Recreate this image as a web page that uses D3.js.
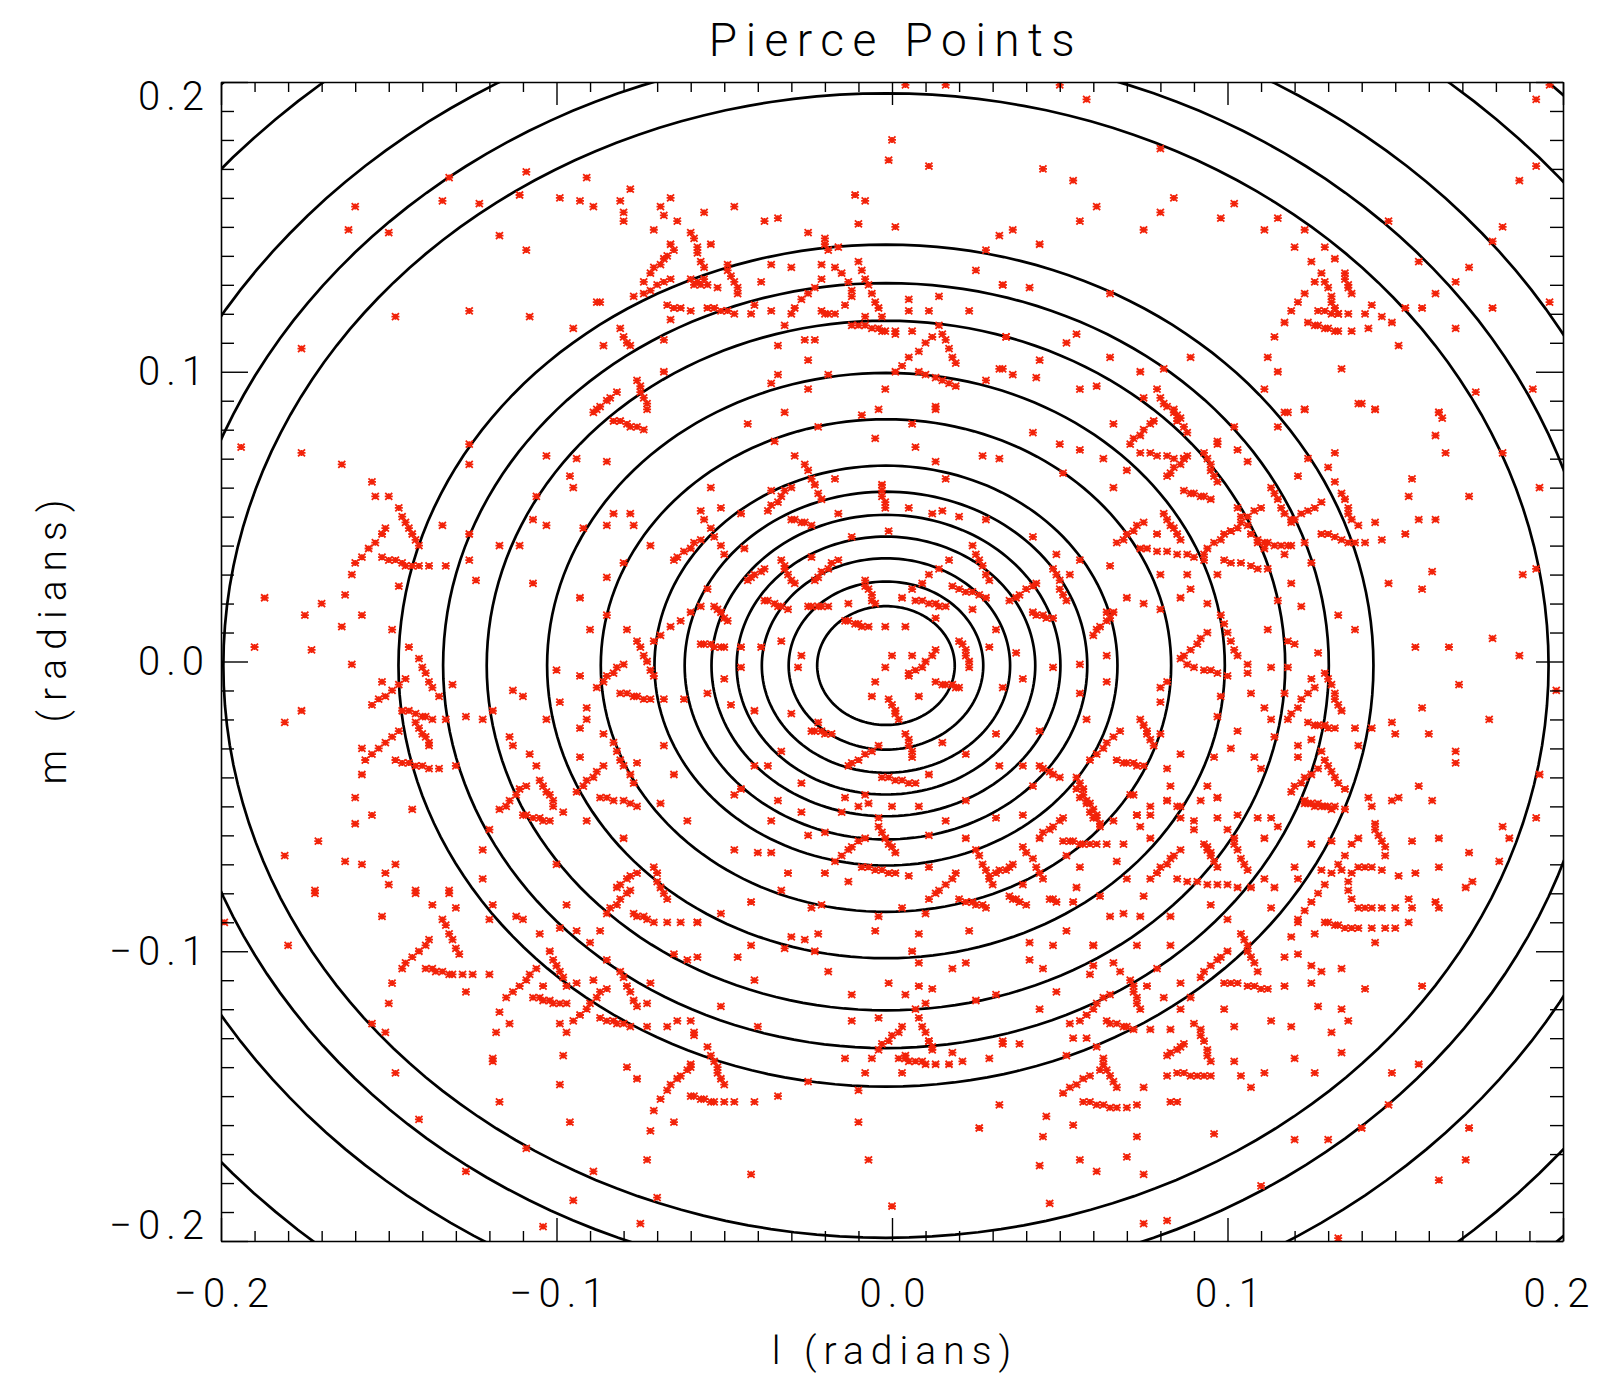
<!DOCTYPE html>
<html>
<head>
<meta charset="utf-8">
<script src="https://cdn.jsdelivr.net/npm/d3@7"></script>
<style>
body { margin: 0; background: #fff; }
text { font-family: Roboto, "DejaVu Sans", sans-serif; font-weight: 300; fill: #000; }
.tick text { font-size: 40px; letter-spacing: 6px; }
</style>
</head>
<body>
<script>
// all positions below are in milliradians (l, m)

var tickValues = [-200, -100, 0, 100, 200];
var tickLabels = ["\u22120.2", "\u22120.1", "0.0", "0.1", "0.2"];

// contour rings: common centre and radii
var contourCentre = [-1.8, -1.4];
var contourRadii = [20.5, 29, 37, 44.5, 52, 60, 69, 85, 101, 119, 132, 145.3, 197.5, 213, 232, 262, 282];

// pierce point tracks (each one a short run of points)
var tracksNorth = [
  [[-72,134],[-71,136],[-69,137],[-68,139],[-67,140],[-65,142]],
  [[-77,126],[-74,127],[-72,128],[-70,130],[-68,131],[-66,132]],
  [[-60,148],[-59,146],[-58,143],[-58,141],[-57,138],[-56,136]],
  [[-49,137],[-49,135],[-48,133],[-47,131],[-46,129],[-46,127]],
  [[-67,123],[-65,122],[-63,122],[-60,121]],
  [[-55,122],[-53,122],[-51,121],[-49,121],[-47,120]],
  [[-60,132],[-58,131],[-57,130],[-55,130],[-59,130],[-56,132]],
  [[-30,120],[-29,122],[-27,125],[-25,127],[-23,129],[-21,132]],
  [[-17,136],[-15,134],[-13,131],[-12,128],[-12,126],[-14,123],[-17,120]],
  [[-20,146],[-20,144],[-19,142]],
  [[-10,138],[-9,135],[-8,132],[-7,130],[-6,127],[-5,124],[-4,122],[-3,119]],
  [[-21,121],[-20,120],[-19,120]],
  [[-12,116],[-10,116],[-8,116],[-6,115],[-4,115],[-2,114]],
  [[1,100],[3,102],[5,105],[8,107],[10,110],[12,112]],
  [[14,116],[15,113],[16,111],[17,108],[18,105],[19,103]],
  [[8,100],[10,99],[13,98],[15,97],[17,96],[19,95]],
  [[-76,97],[-75,95],[-75,93],[-74,91],[-73,89],[-73,87]],
  [[-89,86],[-88,87],[-87,88],[-85,90],[-84,91],[-82,93]],
  [[-80,112],[-79,110],[-78,109]],
  [[117,117],[119,121],[121,124],[123,127],[126,131],[128,134]],
  [[129,131],[130,129],[131,126],[131,124],[132,122],[133,120]],
  [[135,134],[135,132],[136,130],[136,129],[137,127]],
  [[124,117],[126,116],[127,116],[129,115],[130,115],[132,114]],
  [[127,121],[129,121],[131,120],[133,120],[136,120]],
  [[80,91],[81,89],[82,88],[84,86],[85,83]]
];

var tracksEast = [
  [[71,75],[72,77],[74,78],[75,80],[77,82],[78,83]],
  [[84,87],[85,85],[86,84],[87,81],[88,79]],
  [[82,64],[83,65],[84,67],[86,68],[87,70],[88,71]],
  [[74,72],[77,72],[79,71],[82,71],[84,70],[87,70]],
  [[93,72],[94,70],[95,68],[95,66],[96,64],[97,62]],
  [[87,59],[89,58],[90,58],[92,57],[93,57],[95,56]],
  [[67,41],[69,42],[70,44],[72,45],[73,47],[75,48]],
  [[81,51],[82,49],[83,47],[84,46],[85,44],[86,42]],
  [[74,39],[76,39],[79,38],[82,38],[85,37],[88,37],[90,36],[93,35]],
  [[93,37],[94,39],[96,41],[98,42],[99,44],[101,45]],
  [[103,53],[104,50],[106,47],[107,44],[109,41],[111,39]],
  [[101,45],[103,46],[104,48],[106,50],[108,52],[110,53]],
  [[109,42],[111,41],[112,41],[114,40],[116,40],[118,40]],
  [[99,35],[101,34],[104,34],[107,33],[109,32],[112,32]],
  [[119,48],[120,49],[122,51],[124,52],[126,53],[128,55]],
  [[113,60],[114,58],[115,56],[116,53],[117,51],[119,49]],
  [[134,58],[135,56],[136,53],[136,51],[137,49],[139,47]],
  [[128,44],[130,44],[132,43],[134,42],[136,41],[138,41]],
  [[86,1],[87,2],[89,4],[91,6],[92,8],[94,10]],
  [[98,16],[99,13],[100,10],[101,7],[102,4],[103,2]],
  [[88,-1],[90,-2],[93,-3],[95,-3],[97,-4],[100,-5]],
  [[118,-20],[119,-18],[121,-16],[122,-13],[124,-11],[126,-9]],
  [[130,-6],[131,-8],[132,-11],[132,-13],[133,-15],[134,-17]],
  [[124,-21],[126,-22],[127,-22],[129,-22],[130,-23],[132,-23]],
  [[119,-45],[120,-43],[122,-42],[123,-40],[125,-39],[127,-37]],
  [[129,-34],[130,-36],[131,-38],[132,-40],[133,-42],[135,-44]],
  [[123,-49],[124,-49],[126,-50],[128,-50],[129,-50],[131,-51]],
  [[59,-34],[61,-32],[63,-30],[64,-28],[66,-26],[68,-24]],
  [[74,-20],[75,-22],[76,-24],[76,-25],[77,-27],[78,-29]],
  [[67,-34],[69,-35],[70,-35],[72,-35],[73,-36],[75,-36]],
  [[60,9],[61,11],[62,12],[64,14],[65,15],[66,17]]
];

var tracksSouthEast = [
  [[79,-73],[80,-71],[82,-70],[83,-68],[84,-67],[86,-65]],
  [[93,-63],[94,-64],[94,-65],[95,-66],[95,-67],[96,-69],[97,-71]],
  [[85,-75],[88,-76],[91,-76],[94,-77],[97,-77],[100,-77],[103,-78],[107,-78]],
  [[102,-61],[102,-63],[103,-65],[104,-68],[105,-70],[106,-72]],
  [[121,-89],[123,-86],[125,-83],[127,-80],[129,-77],[131,-73],[133,-70],[135,-67],[137,-63],[139,-61]],
  [[144,-56],[144,-58],[145,-60],[146,-62],[147,-64],[147,-67]],
  [[146,-72],[143,-71],[141,-71],[139,-71],[137,-73],[136,-76],[136,-79],[137,-82],[139,-85],[141,-85],[143,-85],[146,-85]],
  [[129,-90],[130,-90],[132,-91],[133,-91],[135,-92],[137,-92]],
  [[105,-96],[106,-98],[106,-100],[107,-102],[108,-104],[109,-107]],
  [[92,-109],[93,-107],[95,-105],[97,-103],[98,-102],[100,-100]],
  [[99,-111],[101,-111],[103,-111],[106,-112],[108,-112],[110,-113]],
  [[71,-110],[72,-112],[72,-114],[73,-116],[73,-118],[74,-120]],
  [[64,-124],[65,-125],[67,-125],[69,-126],[70,-126],[72,-127]],
  [[92,-127],[92,-129],[93,-131],[94,-134],[94,-136],[95,-138]],
  [[82,-136],[83,-135],[85,-134],[86,-133],[87,-132]],
  [[59,-49],[60,-51],[61,-53],[61,-54],[62,-56]],
  [[123,-48],[125,-49],[127,-49],[130,-50],[132,-50],[135,-51]],
  [[51,-149],[53,-147],[55,-146],[57,-144],[59,-143],[62,-141]],
  [[63,-137],[63,-139],[64,-141],[65,-143],[66,-145],[67,-147]],
  [[57,-152],[59,-152],[61,-153],[63,-153],[65,-154],[67,-154],[70,-154],[73,-153]],
  [[85,-142],[87,-142],[89,-143],[91,-143],[93,-143],[95,-143]]
];

var tracksSouth = [
  [[-67,-148],[-66,-146],[-64,-144],[-63,-143],[-61,-141],[-60,-139]],
  [[-54,-136],[-53,-138],[-52,-140],[-52,-142],[-51,-144],[-50,-146]],
  [[-60,-150],[-59,-150],[-57,-151],[-56,-151],[-54,-152],[-53,-152]],
  [[2,-137],[4,-137],[5,-138],[7,-138],[9,-138],[10,-139]],
  [[11,-131],[12,-133]],
  [[-17,-69],[-15,-67],[-13,-65],[-12,-64],[-10,-62],[-8,-61]],
  [[-4,-57],[-3,-59],[-2,-61],[-1,-63],[0,-64],[1,-66]],
  [[-9,-71],[-7,-71],[-5,-72],[-3,-72],[-1,-73],[1,-73]],
  [[11,-82],[13,-80],[14,-79],[16,-77],[18,-75],[19,-73]],
  [[25,-65],[26,-67],[27,-70],[28,-72],[29,-75],[30,-77]],
  [[20,-82],[22,-83],[24,-83],[25,-84],[27,-84],[28,-85]],
  [[29,-74],[31,-73],[32,-72],[34,-72],[35,-71],[36,-70]],
  [[39,-64],[40,-66],[42,-68],[43,-71],[44,-73],[45,-75]],
  [[35,-81],[36,-82],[37,-82],[38,-83],[40,-84]],
  [[44,-61],[45,-59],[47,-58],[48,-57],[50,-55],[51,-54]],
  [[55,-44],[56,-47],[58,-49],[59,-52],[60,-54],[62,-57]],
  [[51,-62],[53,-62],[54,-62],[56,-63],[57,-63],[59,-63]],
  [[-4,-134],[-3,-132],[-1,-131],[0,-129],[2,-128],[3,-126]],
  [[7,-120],[8,-123],[9,-126],[10,-128],[11,-131],[12,-134]],
  [[56,-124],[58,-122],[60,-120],[61,-118],[63,-116],[65,-115]],
  [[47,-82],[48,-82],[49,-83]]
];

var tracksWest = [
  [[-146,-106],[-145,-104],[-143,-102],[-141,-100],[-139,-98],[-138,-96]],
  [[-134,-89],[-133,-91],[-132,-94],[-131,-96],[-130,-99],[-129,-101]],
  [[-139,-106],[-137,-106],[-136,-107],[-134,-107],[-132,-108],[-131,-108]],
  [[-115,-116],[-113,-114],[-111,-112],[-109,-110],[-108,-108],[-106,-106]],
  [[-102,-100],[-101,-103],[-100,-105],[-99,-107],[-98,-109],[-97,-112]],
  [[-107,-116],[-105,-116],[-104,-117],[-102,-117],[-101,-118],[-99,-118]],
  [[-93,-122],[-91,-120],[-90,-118],[-88,-116],[-87,-114],[-85,-113]],
  [[-81,-107],[-80,-109],[-79,-112],[-78,-114],[-77,-117],[-76,-119]],
  [[-87,-123],[-85,-124],[-83,-124],[-82,-125],[-80,-125],[-78,-126]],
  [[-85,-87],[-84,-85],[-82,-84],[-81,-82],[-79,-80],[-78,-79]],
  [[-77,-87],[-76,-88],[-74,-88],[-73,-89],[-71,-90]],
  [[-160,34],[-158,36],[-156,39],[-154,41],[-152,44],[-151,46]],
  [[-146,50],[-145,48],[-144,46],[-143,44],[-142,42],[-141,40]],
  [[-152,36],[-150,35],[-148,35],[-146,34],[-145,33],[-143,33]],
  [[-141,1],[-140,-2],[-139,-4],[-138,-7],[-137,-9],[-135,-12]],
  [[-155,-15],[-153,-13],[-151,-12],[-149,-10],[-147,-8],[-145,-6]],
  [[-146,-17],[-144,-17],[-142,-18],[-140,-19],[-139,-19],[-137,-20]],
  [[-142,-21],[-141,-23],[-140,-25],[-139,-26],[-138,-28],[-138,-29]],
  [[-157,-34],[-155,-32],[-153,-30],[-151,-28],[-149,-26],[-147,-24]],
  [[-148,-34],[-146,-35],[-144,-35],[-142,-36],[-140,-36],[-138,-37]],
  [[-117,-51],[-115,-50],[-114,-48],[-112,-46],[-111,-44],[-109,-43]],
  [[-105,-41],[-104,-43],[-103,-45],[-102,-46],[-101,-48],[-101,-50]],
  [[-110,-53],[-109,-53],[-107,-54],[-105,-54],[-104,-55],[-102,-55]],
  [[-83,-28],[-82,-31],[-81,-34],[-80,-36],[-78,-39],[-77,-42]],
  [[-94,-45],[-92,-43],[-91,-41],[-89,-40],[-88,-38],[-86,-36]],
  [[-87,-47],[-85,-47],[-83,-48],[-80,-48],[-78,-49],[-76,-50]],
  [[-88,-9],[-86,-7],[-85,-5],[-83,-4],[-82,-2],[-80,-1]],
  [[-76,7],[-75,5],[-74,2],[-73,0],[-72,-3],[-71,-5]],
  [[-81,-11],[-79,-11],[-77,-12],[-76,-12],[-74,-13],[-72,-13]],
  [[-65,35],[-64,36],[-62,38],[-60,39],[-59,41],[-57,42]],
  [[-71,7],[-69,9],[-66,12],[-63,14],[-60,17],[-57,19]],
  [[-83,83],[-81,83],[-79,82],[-78,81],[-76,81],[-74,80]],
  [[-82,-78],[-81,-77],[-79,-75],[-78,-74],[-76,-73]],
  [[-71,-71],[-70,-73],[-70,-76],[-69,-78],[-68,-80],[-67,-82]]
];

var tracksCentre = [
  [[-26,68],[-25,66],[-24,63],[-23,61],[-22,58],[-21,56]],
  [[-37,52],[-36,54],[-34,55],[-33,57],[-32,59],[-30,60]],
  [[-30,49],[-29,49],[-27,48],[-26,48],[-24,47]],
  [[-57,52],[-56,49],[-54,46],[-53,43],[-51,40],[-50,37]],
  [[-43,28],[-42,29],[-41,30],[-39,31],[-38,32]],
  [[-33,35],[-32,33],[-32,32],[-31,30],[-30,28],[-29,27]],
  [[-38,21],[-37,21],[-35,20],[-34,19],[-33,19],[-31,18]],
  [[-25,19],[-24,19],[-22,19],[-21,19],[-19,19]],
  [[-23,28],[-22,29],[-21,31],[-19,32],[-18,34],[-16,35]],
  [[-8,28],[-8,26],[-7,25],[-6,23],[-6,21],[-5,20]],
  [[-14,14],[-13,14],[-11,13],[-10,13],[-9,12],[-7,12]],
  [[-3,61],[-3,59],[-3,57],[-2,55],[-2,53]],
  [[3,22],[6,25],[9,27],[11,30],[14,32],[17,35]],
  [[24,40],[25,37],[26,35],[27,33],[28,30],[29,28]],
  [[7,21],[9,21],[11,20],[13,20],[14,19],[16,19]],
  [[18,26],[20,25],[22,24],[24,24],[26,23],[28,22]],
  [[35,21],[37,22],[38,23],[40,25],[42,26],[43,27]],
  [[42,17],[43,16],[45,16],[46,15],[48,15]],
  [[48,32],[49,30],[50,28],[50,25],[51,23],[52,21]],
  [[20,7],[21,6],[22,4],[22,2],[23,0],[23,-2]],
  [[5,-5],[7,-3],[9,-2],[10,0],[12,2],[13,4]],
  [[13,-7],[15,-8],[16,-8],[18,-8],[19,-9],[20,-9]],
  [[-1,-13],[0,-15],[1,-17],[1,-18],[2,-20]],
  [[4,-25],[5,-27],[5,-29],[6,-31],[6,-33]],
  [[-13,-36],[-12,-35],[-10,-34],[-8,-32],[-6,-31],[-4,-29]],
  [[-24,-24],[-23,-24],[-21,-24],[-20,-25],[-18,-25]],
  [[-3,-40],[-1,-40],[1,-41],[3,-41],[5,-42],[7,-42]],
  [[55,-40],[56,-42],[57,-44],[57,-46],[58,-48]],
  [[44,-36],[45,-37],[47,-38],[48,-39],[50,-40]],
  [[-53,19],[-52,18],[-51,17],[-50,15],[-49,14]],
  [[-57,6],[-56,6],[-54,6],[-53,5],[-51,5]]
];

// isolated pierce points
var singlesNorth = [
  [-160,157],[-162,149],[-150,148],[-132,167],[-134,159],[-123,158],[-117,147],[-109,142],[-109,169],[-111,161],
  [-99,160],[-93,159],[-91,167],[-89,157],[-148,119],[-126,121],[-108,119],[-95,115],[-88,124],[-176,108],
  [0,180],[-1,173],[11,171],[-11,161],[-8,159],[-10,151],[1,150],[-78,163],[-81,159],[-69,157],[-66,160],
  [-80,155],[-68,154],[-80,152],[-64,152],[-56,155],[-47,157],[-71,149],[-38,152],[-34,153],[-25,148],[32,147],
  [28,142],[25,135],[33,130],[5,125],[14,126],[5,121],[11,121],[23,121],[1,114],[6,114],[34,112],[32,101],
  [28,97],[-2,94],[13,87],[-19,99],[-25,94],[-34,99],[-36,96],[-34,109],[-26,111],[-23,111],[-25,104],[-32,116],
  [-36,121],[-42,120],[-41,123],[-39,131],[-36,137],[-30,136],[-21,137],[-16,143],[-52,129],[-54,144],[-66,144],
  [-74,131],[-87,124],[-81,115],[-86,109],[-68,111],[-66,118],[-68,100],[-8,119],[-3,114],[1,113],[4,199],[16,199],
  [50,199],[58,194],[80,177],[45,170],[54,166],[61,157],[84,160],[56,152],[75,149],[80,155],[98,153],[102,158],
  [115,153],[111,149],[123,149],[120,143],[129,143],[132,139],[125,138],[148,152],[157,138],[168,131],[162,127],
  [172,136],[179,145],[182,150],[187,166],[192,171],[192,194],[196,199],[196,124],[179,122],[158,122],[153,122],
  [151,109],[168,115],[143,123],[146,119],[149,117],[142,115],[141,120],[137,114],[133,114],[134,101],[112,105],
  [114,112],[115,100],[111,94],[117,86],[123,87],[140,89],[144,87],[163,86],[174,93],[191,94],[164,84],[36,149],
  [44,144],[33,130],[41,129],[65,127],[55,113],[52,110],[44,104],[43,98],[34,112],[33,101],[36,99],[65,105],
  [74,100],[89,105],[81,101],[79,94],[56,94],[61,95],[75,91]
];

var singlesWest = [
  [-194,74],[-176,72],[-164,68],[-155,62],[-154,57],[-150,57],[-147,53],[-134,47],[-126,75],[-126,68],[-126,44],
  [-126,35],[-124,28],[-117,40],[-111,40],[-103,71],[-94,70],[-85,69],[-96,64],[-95,60],[-106,57],[-107,49],
  [-103,47],[-92,46],[-85,47],[-83,51],[-78,51],[-77,47],[-72,40],[-85,29],[-80,34],[-93,22],[-107,27],[-90,11],
  [-79,11],[-100,-3],[-93,-5],[-91,-16],[-91,-20],[-93,-23],[-86,-25],[-93,-33],[-76,-35],[-69,-49],[-61,-55],
  [-68,-29],[-65,-39],[-68,-13],[-62,-13],[-113,-10],[-110,-12],[-99,-14],[-114,-26],[-113,-29],[-108,-32],
  [-103,-20],[-106,-36],[-98,-52],[-91,-55],[-80,-61],[-100,-70],[-122,-65],[-122,-75],[-120,-58],[-119,-17],
  [-127,-19],[-122,-20],[-131,-8],[-144,5],[-149,11],[-147,26],[-158,16],[-163,23],[-164,12],[-170,20],[-175,16],
  [-173,4],[-161,-1],[-161,30],[-187,22],[-190,5],[-176,-17],[-181,-21],[-152,-7],[-158,-30],[-158,-39],[-160,-47],
  [-155,-53],[-160,-56],[-143,-51],[-171,-62],[-181,-67],[-163,-69],[-158,-70],[-151,-73],[-148,-70],[-150,-77],
  [-142,-79],[-132,-79],[-172,-79],[-130,-36],[-135,-37],[-85,16],[-141,33],[-138,33],[-133,33],[-133,-20]
];

var singlesSouthWest = [
  [-199,-90],[-180,-98],[-172,-80],[-152,-88],[-137,-84],[-130,-85],[-142,-80],[-132,-80],[-149,-111],[-150,-118],
  [-155,-125],[-151,-128],[-127,-114],[-118,-128],[-117,-121],[-114,-125],[-119,-84],[-120,-89],[-112,-88],
  [-110,-89],[-105,-94],[-97,-84],[-99,-92],[-94,-93],[-87,-93],[-90,-97],[-85,-103],[-104,-112],[-94,-111],
  [-89,-110],[-97,-118],[-99,-125],[-97,-128],[-95,-124],[-72,-111],[-73,-118],[-73,-126],[-67,-126],[-64,-124],
  [-60,-124],[-59,-128],[-65,-101],[-61,-103],[-67,-90],[-63,-90],[-58,-90],[-98,-136],[-119,-137],[-128,-108],
  [-125,-108],[-120,-108],[-148,-142],[-119,-138],[-99,-146],[-117,-152],[-96,-159],[-141,-158],[-109,-168],
  [-127,-176],[-89,-176],[-95,-186],[-104,-195],[-70,-185],[-75,-194],[-79,-140],[-76,-144],[-69,-151],[-71,-155],
  [-65,-159],[-72,-162],[-73,-172]
];

var singlesCentre = [
  [-54,60],[-43,82],[-32,86],[-22,81],[-35,76],[-29,71],[-9,85],[-4,87],[-5,77],[6,82],[13,88],[7,74],[13,69],
  [16,63],[27,71],[32,70],[42,79],[50,75],[56,73],[51,65],[49,37],[53,30],[56,35],[56,-1],[48,-2],[39,-6],[56,-11],
  [58,-20],[44,-24],[31,-25],[33,-9],[29,5],[37,3],[6,2],[5,-4],[-2,-2],[-5,-7],[-6,-12],[8,-12],[0,2],[-27,2],
  [-28,-2],[-33,7],[-39,5],[-45,-2],[-50,-6],[-55,-11],[-48,-15],[-41,-17],[-30,-18],[-22,-21],[-33,-31],[-37,-36],
  [-41,-36],[-45,-44],[-27,-42],[-14,-47],[-8,-46],[11,-39],[15,-28],[22,-32],[32,-36],[39,-36],[42,-43],[-36,59],
  [-17,63],[-16,51],[-1,45],[5,53],[12,51],[15,52],[20,50],[28,49],[42,43],[-13,20],[-2,12],[4,12],[13,15],[31,11],
  [24,18],[-12,43],[-24,36],[-45,51],[-51,53],[-44,39],[-55,25],[-45,5],[-50,5]
];

var singlesEast = [
  [139,89],[144,87],[123,87],[118,86],[163,86],[162,78],[165,72],[155,63],[154,57],[172,57],[193,60],[182,72],
  [157,49],[162,49],[144,48],[146,42],[153,44],[141,41],[132,72],[130,67],[132,62],[124,70],[121,64],[115,81],
  [103,73],[106,69],[97,76],[102,81],[161,31],[188,30],[192,32],[148,27],[158,25],[138,11],[133,16],[156,5],
  [166,5],[179,8],[187,2],[169,-8],[158,-16],[178,-20],[198,-10],[149,-21],[150,-25],[160,-25],[168,-31],[168,-35],
  [157,-43],[161,-48],[151,-47],[149,-48],[142,-47],[143,-50],[193,-39],[122,19],[112,11],[118,7],[120,6],[125,-6],
  [129,-4],[127,3],[118,-2],[117,-11],[111,-16],[113,-20],[106,-1],[106,-4],[113,-2],[107,-11],[103,-24],[114,-26],
  [121,-33],[121,-29],[125,-27],[128,-31],[139,-29],[138,-23],[143,-23],[101,-30],[108,-33],[110,-37],[96,-33],
  [94,-43],[97,-47],[97,-19],[98,-12],[86,-32],[82,-37],[83,-43],[82,-48],[86,-50],[77,-50],[73,-53],[72,-46],
  [80,-25],[80,-14],[80,-9],[82,-7],[64,-7],[64,2],[64,17],[80,18],[70,22],[75,20],[89,25],[86,22],[88,30],[94,20],
  [97,30],[115,21],[80,30],[66,82],[63,70],[66,60],[70,66],[65,33],[79,44],[97,75],[117,37],[119,40],[123,41],
  [125,34],[119,27]
];

var singlesSouthEast = [
  [71,-46],[82,-48],[85,-50],[92,-48],[97,-47],[73,-53],[77,-53],[74,-57],[66,-55],[69,-63],[67,-69],[64,-63],
  [61,-63],[77,-61],[86,-54],[90,-55],[90,-58],[97,-54],[103,-53],[109,-54],[113,-54],[111,-61],[115,-57],[100,-58],
  [120,-71],[121,-75],[114,-78],[111,-75],[113,-85],[128,-72],[125,-63],[131,-62],[134,-72],[151,-74],[156,-73],
  [163,-71],[155,-62],[163,-61],[172,-66],[181,-69],[182,-57],[184,-61],[192,-54],[171,-78],[173,-76],[162,-83],
  [163,-85],[154,-82],[155,-85],[154,-90],[150,-85],[147,-92],[150,-92],[143,-92],[139,-92],[144,-97],[126,-94],
  [121,-90],[119,-95],[121,-101],[117,-102],[125,-105],[128,-107],[134,-106],[125,-111],[117,-112],[112,-113],
  [100,-89],[104,-94],[95,-84],[83,-88],[74,-88],[69,-87],[65,-88],[75,-81],[70,-75],[77,-75],[60,-98],[66,-104],
  [68,-107],[73,-98],[83,-98],[79,-106],[76,-112],[81,-116],[86,-111],[89,-116],[86,-120],[99,-120],[127,-119],
  [134,-120],[136,-124],[141,-113],[158,-112],[113,-124],[119,-126],[131,-128],[134,-135],[102,-126],[90,-125],
  [83,-127],[77,-127],[61,-133],[46,-157],[45,-164],[44,-174],[47,-187],[54,-160],[56,-172],[61,-176],[70,-171],
  [73,-164],[75,-177],[75,-194],[82,-193],[83,-152],[85,-152],[75,-147],[82,-143],[96,-163],[102,-138],[104,-143],
  [107,-147],[111,-142],[120,-137],[126,-142],[120,-165],[130,-165],[140,-161],[148,-153],[149,-142],[157,-139],
  [110,-181],[172,-161],[171,-172],[163,-179],[133,-199]
];

var singlesSouth = [
  [-47,-46],[-34,-48],[-27,-52],[-15,-52],[-10,-50],[-7,-49],[0,-50],[8,-50],[-4,-54],[-36,-55],[-20,-59],[-25,-60],
  [11,-60],[16,-55],[22,-48],[22,-61],[31,-54],[39,-53],[-47,-65],[-40,-66],[-36,-66],[-31,-73],[-20,-73],[-13,-76],
  [5,-74],[11,-71],[-33,-79],[-42,-83],[-24,-85],[-21,-84],[-51,-87],[-58,-90],[-4,-88],[3,-85],[10,-87],[-5,-93],
  [8,-94],[23,-93],[39,-77],[52,-67],[56,-71],[55,-78],[54,-83],[62,-81],[52,-93],[41,-97],[48,-98],[60,-98],
  [41,-103],[45,-106],[60,-105],[59,-108],[49,-114],[44,-120],[53,-125],[54,-130],[58,-130],[52,-136],[38,-132],
  [33,-131],[31,-115],[25,-117],[18,-106],[22,-104],[6,-100],[8,-104],[-1,-111],[4,-115],[8,-112],[12,-113],
  [10,-118],[-12,-115],[-19,-107],[-30,-95],[-26,-96],[-22,-94],[-23,-100],[-32,-99],[-42,-98],[-46,-102],
  [-58,-102],[-41,-110],[-51,-119],[-40,-126],[-59,-129],[-55,-133],[-12,-124],[-4,-123],[4,-136],[18,-135],
  [-60,-140],[-25,-145],[-14,-137],[-6,-137],[-8,-142],[-10,-148],[-10,-159],[-7,-172],[0,-188],[-42,-177],
  [3,-142],[13,-139],[17,-139],[21,-138],[29,-137],[33,-132],[32,-153],[26,-161],[-50,-152],[-47,-152],
  [-41,-152],[-34,-150]
];

var width = 1602,
    height = 1378,
    margin = {top: 82, right: 39, bottom: 137, left: 221};

var x = d3.scaleLinear().domain([-200, 200]).range([margin.left, width - margin.right]);
var y = d3.scaleLinear().domain([-200, 200]).range([height - margin.bottom, margin.top]);

var svg = d3.select("body").append("svg")
    .attr("width", width)
    .attr("height", height);

svg.append("rect").attr("width", width).attr("height", height).attr("fill", "#fff");

svg.append("clipPath").attr("id", "plotclip")
  .append("rect")
    .attr("x", x(-200)).attr("y", y(200))
    .attr("width", x(200) - x(-200)).attr("height", y(-200) - y(200));

var plot = svg.append("g").attr("clip-path", "url(#plotclip)");

// contour rings
var angles = d3.range(0, 361, 2);

plot.selectAll("path.contour")
    .data(contourRadii)
  .enter().append("path")
    .attr("class", "contour")
    .attr("fill", "none")
    .attr("stroke", "#000")
    .attr("stroke-width", 2.7)
    .attr("d", function(r) {
      return d3.line()
        .x(function(a) { return x(contourCentre[0] + r * Math.cos(a * Math.PI / 180)); })
        .y(function(a) { return y(contourCentre[1] + r * Math.sin(a * Math.PI / 180)); })(angles);
    });

// pierce points as asterisks
var tracks = [].concat(tracksNorth, tracksEast, tracksSouthEast, tracksSouth, tracksWest, tracksCentre);
var points = [].concat(singlesNorth, singlesWest, singlesSouthWest, singlesCentre, singlesEast, singlesSouthEast, singlesSouth);
tracks.forEach(function(t) { points = points.concat(t); });

var star = "M-3.5,-3.5L3.5,3.5M-3.5,3.5L3.5,-3.5M-4,0H4M0,-3V3";

plot.selectAll("path.pt")
    .data(points)
  .enter().append("path")
    .attr("class", "pt")
    .attr("d", star)
    .attr("fill", "none")
    .attr("stroke", "#f2230a")
    .attr("stroke-width", 1.8)
    .attr("transform", function(d) { return "translate(" + x(d[0]) + "," + y(d[1]) + ")"; });

// axes: box with major and minor ticks on all four sides
var fmt = function(d) { return tickLabels[tickValues.indexOf(d)]; };
var minor = d3.range(-200, 201, 10).filter(function(d) { return d % 100 !== 0; });

function styleAxis(g) {
  g.attr("font-family", null).attr("font-size", null);
  g.select(".domain").attr("stroke-width", 1.6);
  g.selectAll(".tick line").attr("stroke-width", 1.4);
}

var bottom = svg.append("g")
    .attr("transform", "translate(0," + y(-200) + ")")
    .call(d3.axisBottom(x).tickValues(tickValues).tickSizeInner(-23).tickSizeOuter(0).tickPadding(38).tickFormat(fmt))
    .call(styleAxis);
// last label is pulled in so it stays on the page
bottom.selectAll(".tick text").attr("dx", function(d) { return d === 200 ? -4 : 3; });

svg.append("g")
    .attr("transform", "translate(0," + y(200) + ")")
    .call(d3.axisTop(x).tickValues(tickValues).tickSizeInner(-23).tickSizeOuter(0).tickFormat(""))
    .call(styleAxis);

var left = svg.append("g")
    .attr("transform", "translate(" + x(-200) + ",0)")
    .call(d3.axisLeft(y).tickValues(tickValues).tickSizeInner(-27).tickSizeOuter(0).tickPadding(11).tickFormat(fmt))
    .call(styleAxis);

// the end labels sit inside the axis range
left.selectAll(".tick text").attr("y", function(d) { return d === 200 ? 15 : d === -200 ? -15 : 0; });

svg.append("g")
    .attr("transform", "translate(" + x(200) + ",0)")
    .call(d3.axisRight(y).tickValues(tickValues).tickSizeInner(-27).tickSizeOuter(0).tickFormat(""))
    .call(styleAxis);

[[d3.axisBottom(x), "translate(0," + y(-200) + ")", 10],
 [d3.axisTop(x), "translate(0," + y(200) + ")", 10],
 [d3.axisLeft(y), "translate(" + x(-200) + ",0)", 13],
 [d3.axisRight(y), "translate(" + x(200) + ",0)", 13]].forEach(function(a) {
  var g = svg.append("g")
      .attr("transform", a[1])
      .call(a[0].tickValues(minor).tickSizeInner(-a[2]).tickSizeOuter(0).tickFormat(""))
      .call(styleAxis);
  g.select(".domain").remove();
});

// titles
svg.append("text")
    .attr("x", x(0) + 4)
    .attr("y", 56)
    .attr("text-anchor", "middle")
    .style("font-size", "46px")
    .style("letter-spacing", "8.5px")
    .text("Pierce Points");

svg.append("text")
    .attr("x", x(0) + 3)
    .attr("y", 1364)
    .attr("text-anchor", "middle")
    .style("font-size", "39px")
    .style("letter-spacing", "7px")
    .text("l (radians)");

svg.append("text")
    .attr("transform", "translate(66," + (y(0) - 24) + ") rotate(-90)")
    .attr("text-anchor", "middle")
    .style("font-size", "39px")
    .style("letter-spacing", "9px")
    .text("m (radians)");
</script>
</body>
</html>
